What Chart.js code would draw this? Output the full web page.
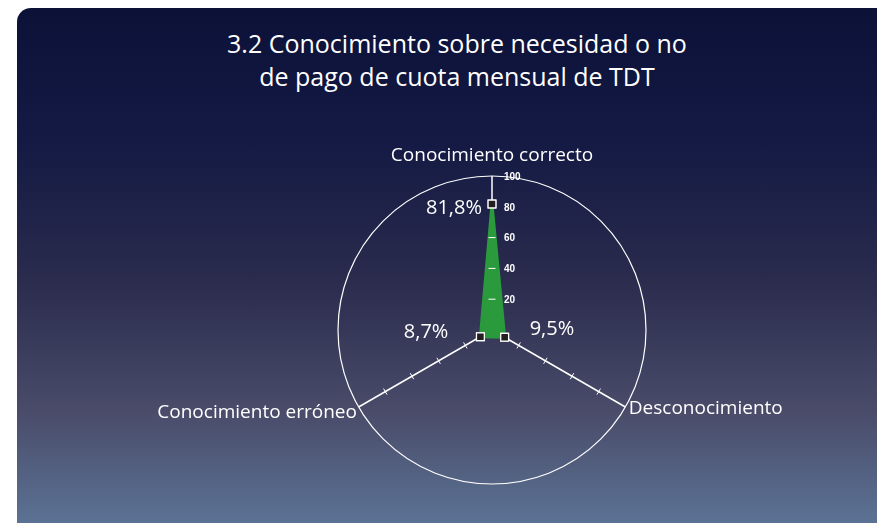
<!DOCTYPE html>
<html>
<head>
<meta charset="utf-8">
<script src="https://cdn.jsdelivr.net/npm/chart.js@4"></script>
<style>
  html, body { margin: 0; padding: 0; background: #ffffff; }
  body { width: 877px; height: 523px; position: relative; overflow: hidden; }
  .card {
    position: absolute; left: 17px; top: 8px; width: 880px; height: 540px;
    border-radius: 14px;
    background: linear-gradient(to bottom, #0b1137 0%, #141a44 25%, #2a2b4d 50%, #4a4c6a 75%, #5f7b9e 100%);
  }
  .title {
    position: absolute; left: 207px; top: 27px; width: 500px;
    text-align: center; color: #ffffff;
    font-family: "Open Sans", sans-serif; font-size: 25px; line-height: 33px;
  }
  #wrap { position: absolute; left: 0; top: 0; width: 877px; height: 523px; }
</style>
</head>
<body>
<div class="card"></div>
<div class="title">3.2 Conocimiento sobre necesidad o no<br>de pago de cuota mensual de TDT</div>
<div id="wrap"><canvas id="radar" width="877" height="523"></canvas></div>
<script>
// chart data
const categories = ['Conocimiento correcto', 'Desconocimiento', 'Conocimiento erróneo'];
const values = [81.8, 9.5, 8.7];
const valueLabels = ['81,8%', '9,5%', '8,7%'];
const tickValues = [20, 40, 60, 80, 100];

// extra drawing: tick marks, tick labels, category labels, value labels
const radarExtras = {
  id: 'radarExtras',
  afterDraw(chart) {
    const ctx = chart.ctx;
    const scale = chart.scales.r;
    ctx.save();

    // small tick marks across every axis
    ctx.strokeStyle = '#ffffff';
    ctx.lineWidth = 1;
    categories.forEach((c, i) => {
      const ang = scale.getIndexAngle(i) - Math.PI / 2;
      const px = -Math.sin(ang), py = Math.cos(ang);
      tickValues.slice(0, -1).forEach(v => {
        const p = scale.getPointPositionForValue(i, v);
        ctx.beginPath();
        ctx.moveTo(p.x - px * 3.5, p.y - py * 3.5);
        ctx.lineTo(p.x + px * 3.5, p.y + py * 3.5);
        ctx.stroke();
      });
    });

    // tick labels on top axis
    ctx.fillStyle = '#ffffff';
    ctx.font = 'bold 10px "Liberation Sans", sans-serif';
    ctx.textAlign = 'left';
    ctx.textBaseline = 'middle';
    tickValues.forEach(v => {
      const p = scale.getPointPositionForValue(0, v);
      ctx.fillText(String(v), p.x + 12, p.y + 1);
    });

    // category labels
    ctx.font = '19px "Open Sans", sans-serif';
    categories.forEach((c, i) => {
      if (i === 0) {
        const p = scale.getPointPosition(i, scale.drawingArea + 20);
        ctx.textAlign = 'center';
        ctx.fillText(c, p.x, p.y);
      } else if (i === 1) {
        const p = scale.getPointPosition(i, scale.drawingArea + 4);
        ctx.textAlign = 'left';
        ctx.fillText(c, p.x, p.y);
      } else {
        const p = scale.getPointPosition(i, scale.drawingArea + 2);
        ctx.textAlign = 'right';
        ctx.fillText(c, p.x, p.y + 5);
      }
    });

    // redraw points over the axes
    const meta = chart.getDatasetMeta(0);
    meta.data.forEach(pt => pt.draw(ctx, chart.chartArea));

    // value labels
    ctx.font = '20px "Open Sans", sans-serif';
    const offs = [[-10, 4, 'right'], [25, -8, 'left'], [-32, -4, 'right']];
    meta.data.forEach((pt, i) => {
      ctx.fillStyle = '#ffffff';
      ctx.textAlign = offs[i][2];
      ctx.fillText(valueLabels[i], pt.x + offs[i][0], pt.y + offs[i][1]);
    });
    ctx.restore();
  }
};

new Chart(document.getElementById('radar'), {
  type: 'radar',
  data: {
    labels: categories,
    datasets: [{
      data: values,
      backgroundColor: '#2a9a3c',
      borderColor: '#2a9a3c',
      borderWidth: 3,
      borderJoinStyle: 'round',
      fill: true,
      pointStyle: 'rect',
      pointRadius: 5.5,
      pointHoverRadius: 5.5,
      pointBackgroundColor: '#231f20',
      pointBorderColor: '#ffffff',
      pointBorderWidth: 1.2
    }]
  },
  options: {
    responsive: false,
    animation: false,
    layout: { padding: { left: 338, right: 231, top: 176, bottom: 39 } },
    plugins: { legend: { display: false }, tooltip: { enabled: false } },
    scales: {
      r: {
        z: 1,
        min: 0,
        max: 100,
        ticks: { display: false, stepSize: 20 },
        pointLabels: { display: false },
        angleLines: { color: '#ffffff', lineWidth: 1.5 },
        grid: {
          circular: true,
          lineWidth: 1.2,
          color: (c) => (c.tick && c.tick.value === 100 ? '#ffffff' : 'rgba(0,0,0,0)')
        }
      }
    }
  },
  plugins: [radarExtras]
});
</script>
</body>
</html>
